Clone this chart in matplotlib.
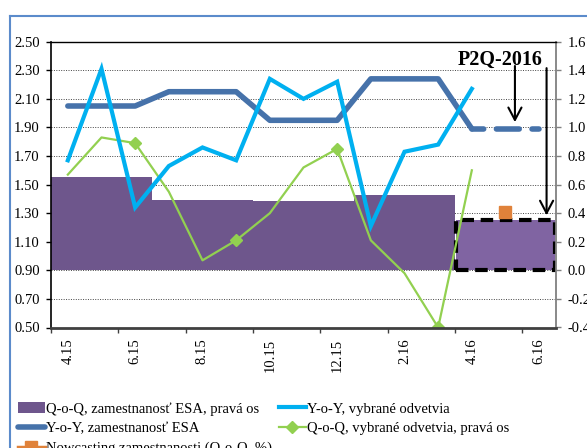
import matplotlib
matplotlib.use('Agg')
import matplotlib.pyplot as plt
from matplotlib.lines import Line2D
from matplotlib.patches import Patch
from matplotlib.ticker import FormatStrFormatter
import numpy as np

plt.rcParams['font.family'] = ['Liberation Serif', 'DejaVu Serif']
plt.rcParams['font.size'] = 10.5
plt.rcParams['axes.unicode_minus'] = False

# ---------------- data ----------------
months = ['4.15', '5.15', '6.15', '7.15', '8.15', '9.15', '10.15', '11.15',
          '12.15', '1.16', '2.16', '3.16', '4.16', '5.16', '6.16']
tick_labels = months[::2]

# Y-o-Y, zamestnanost ESA (left axis), monthly positions 4.15 .. 4.16
yoy_esa = [2.05, 2.05, 2.05, 2.15, 2.15, 2.15, 1.95, 1.95, 1.95, 2.24, 2.24, 2.24, 1.89]
# forecast part (dashed), 4.16 .. 6.16
yoy_esa_fc = [1.89, 1.89, 1.89]
# Y-o-Y, vybrane odvetvia (left axis)
yoy_sel = [1.67, 2.31, 1.34, 1.63, 1.76, 1.67, 2.24, 2.10, 2.22, 1.21, 1.73, 1.78, 2.17]
# Q-o-Q, vybrane odvetvia (right axis)
qoq_sel = [0.67, 0.93, 0.89, 0.55, 0.07, 0.21, 0.40, 0.72, 0.85, 0.21, -0.02, -0.40, 0.70]
# Q-o-Q, zamestnanost ESA (right axis), quarterly bars centred on mid-quarter month
quarter_mid = ['5.15', '8.15', '11.15', '2.16', '5.16']
qoq_esa = [0.65, 0.495, 0.485, 0.525, 0.35]
# Nowcasting
nowcast_month = ['5.16']
nowcast = [0.41]

labels = ['Q-o-Q, zamestnanosť ESA, pravá os',
          'Y-o-Y, zamestnanosť ESA',
          'Nowcasting zamestnanosti (Q-o-Q, %)',
          'Y-o-Y, vybrané odvetvia',
          'Q-o-Q, vybrané odvetvia, pravá os']

# ---------------- colours ----------------
c_bar = '#6E568C'
c_box = '#8064A2'
c_blue = '#4672AA'
c_cyan = '#00B0F0'
c_green = '#92D050'
c_orange = '#E0823A'

x = np.arange(len(months))
xq = np.array([months.index(m) for m in quarter_mid])
xn = np.array([months.index(m) for m in nowcast_month])

fig = plt.figure(figsize=(5.87, 4.48), dpi=100)
axL = fig.add_axes([51 / 587, 1 - 327.5 / 448, 505 / 587, 285.8 / 448])
axR = axL.twinx()
axL.set_zorder(2)
axR.set_zorder(1)
axL.patch.set_visible(False)

# ----- right axis content (drawn first) -----
axR.set_axisbelow(True)
axR.yaxis.grid(True, linestyle=(0, (1, 1.5)), color='#444444', lw=0.7)
axR.bar(xq[:4], qoq_esa[:4], width=3, color=c_bar, linewidth=0, zorder=2)
axR.bar(xq[4:], qoq_esa[4:], width=2.92, color=c_box, edgecolor='black',
        linewidth=3, linestyle=(0, (3, 1.6)), zorder=2.5)
ln_green, = axR.plot(x[:len(qoq_sel)], qoq_sel, color=c_green, lw=1.6,
                     marker='D', markevery=[2, 5, 8, 11], ms=6, zorder=3)
ln_orange, = axR.plot(xn, nowcast, color=c_orange, lw=2.5, marker='s', ms=8.5,
                      zorder=4)
axR.set_ylim(-0.4, 1.6)
axR.set_yticks(np.round(np.arange(-0.4, 1.61, 0.2), 1))
axR.yaxis.set_major_formatter(FormatStrFormatter('%.1f'))
axR.tick_params(axis='y', direction='out', length=3.6, width=1, color='#808080',
                pad=4.5, labelsize=10.5)
for s in ['left', 'top', 'bottom']:
    axR.spines[s].set_visible(False)
axR.spines['right'].set_color('#808080')
axR.spines['right'].set_linewidth(1.3)

# ----- left axis content -----
ln_blue, = axL.plot(x[:len(yoy_esa)], yoy_esa, color=c_blue, lw=4,
                    solid_capstyle='round', solid_joinstyle='round', zorder=3)
axL.plot(x[len(yoy_esa) - 1:len(yoy_esa) - 1 + len(yoy_esa_fc)], yoy_esa_fc,
         color=c_blue, lw=4, linestyle=(2.0, (4.1, 2.3)), dash_capstyle='round',
         zorder=3)
ln_cyan, = axL.plot(x[:len(yoy_sel)], yoy_sel, color=c_cyan, lw=3,
                    solid_joinstyle='miter', zorder=4)

axL.set_xlim(-0.5, len(months) - 0.5)
axL.set_ylim(0.5, 2.5)
axL.set_yticks(np.round(np.arange(0.5, 2.51, 0.2), 2))
axL.yaxis.set_major_formatter(FormatStrFormatter('%.2f'))
axL.tick_params(axis='y', direction='out', length=3.6, width=1, pad=4.5,
                labelsize=10.5)

axL.set_xticks(np.arange(-0.5, len(months) - 1, 2))
axL.set_xticklabels([])
axL.set_xticks(x[::2], minor=True)
axL.set_xticklabels(tick_labels, minor=True, rotation=90)
axL.tick_params(axis='x', which='major', direction='out', length=3.6, width=1,
                color='#404040')
axL.tick_params(axis='x', which='minor', length=0, pad=8, labelsize=10.5)

axL.spines['right'].set_visible(False)
axL.spines['left'].set_linewidth(1.2)
axL.spines['top'].set_linewidth(1.0)
axL.spines['bottom'].set_linewidth(2.0)
axL.spines['bottom'].set_color('#404040')

# ----- annotations -----
arrow_style = '->,head_length=0.85,head_width=0.45'
axL.annotate('', xy=(13.28, 1.937), xytext=(13.28, 2.33),
             arrowprops=dict(arrowstyle=arrow_style, lw=1.5, color='black',
                             shrinkA=0, shrinkB=0))
axL.annotate('', xy=(14.22, 1.285), xytext=(14.22, 2.315),
             arrowprops=dict(arrowstyle=arrow_style, lw=1.5, color='black',
                             shrinkA=0, shrinkB=0))
axL.text(0.889, 0.918, 'P2Q-2016', transform=axL.transAxes, ha='center',
         va='baseline', fontsize=14.5, fontweight='bold')

# ----- legend -----
handles = [Patch(facecolor=c_bar, edgecolor='none'), ln_blue, ln_orange,
           ln_cyan, ln_green]
fig.legend(handles, labels, ncol=2, loc='upper left',
           bbox_to_anchor=(18 / 587, 1 - 402 / 448), frameon=False,
           borderpad=0, borderaxespad=0, handlelength=1.85, handletextpad=0.1,
           columnspacing=0.45, labelspacing=0.45, fontsize=10.5)

# ----- chart-area border (partly cut off) -----
fig.add_artist(Line2D([10 / 587, 1.0], [1 - 16 / 448, 1 - 16 / 448],
                      transform=fig.transFigure, color='#5B8BCB', lw=1.5))
fig.add_artist(Line2D([10 / 587, 10 / 587], [1 - 16 / 448, 0.0],
                      transform=fig.transFigure, color='#5B8BCB', lw=1.5))

fig.savefig('out.png', dpi=100)
